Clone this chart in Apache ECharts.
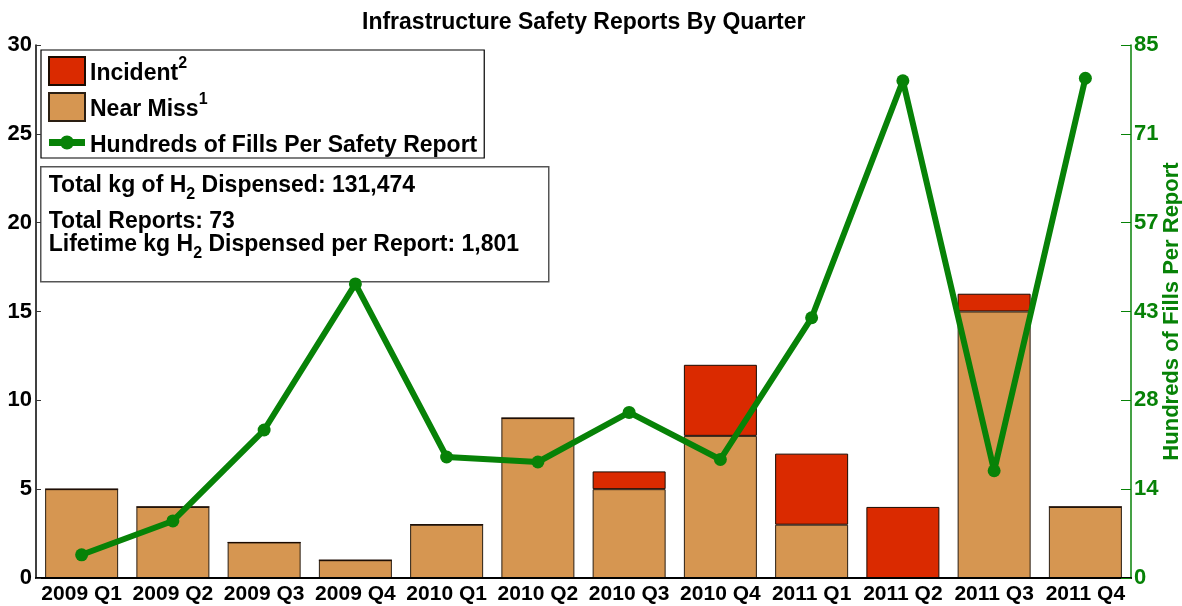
<!DOCTYPE html>
<html>
<head>
<meta charset="utf-8">
<script src="https://cdn.jsdelivr.net/npm/echarts@6/dist/echarts.min.js"></script>
<style>
  html, body { margin: 0; padding: 0; background: #fff; }
  #chart { width: 1182px; height: 606px; }
</style>
</head>
<body>
<div id="chart"></div>
<script>
// Quarterly safety reports
const quarters = ['2009 Q1', '2009 Q2', '2009 Q3', '2009 Q4', '2010 Q1', '2010 Q2',
                  '2010 Q3', '2010 Q4', '2011 Q1', '2011 Q2', '2011 Q3', '2011 Q4'];
const nearMiss  = [5, 4, 2, 1, 3, 9, 5, 8, 3, 0, 15, 4];
const incidents = [0, 0, 0, 0, 0, 0, 1, 4, 4, 4, 1, 0];
// Hundreds of fills per safety report
const fillsPerReport = [3.7, 9.1, 23.6, 46.9, 19.3, 18.5, 26.4, 18.9, 41.5, 79.3, 17.1, 79.7];
// Left axis (reports) and right axis (fills) ranges
const reportTicks = [0, 5, 10, 15, 20, 25, 30];
const fillsMax = 85;
const kgDispensed = 131474;

const totalReports = nearMiss.concat(incidents).reduce((a, b) => a + b, 0);
const kgPerReport = Math.round(kgDispensed / totalReports);
const fmt = n => n.toLocaleString('en-US');

const FONT = 'Liberation Sans, Arial, Helvetica, sans-serif';
const GREEN = '#078207';
const TAN = '#D69651';
const RED = '#DA2A00';

// thick line with a round marker, used as the legend key of the line series
const LINE_KEY = 'path://M0,3.5 L36,3.5 L36,10.5 L0,10.5 Z M11,7 A7,7 0 1,1 25,7 A7,7 0 1,1 11,7 Z';

const chart = echarts.init(document.getElementById('chart'), null, { renderer: 'canvas' });

const legendRich = {
  t: { fontFamily: FONT, fontWeight: 'bold', fontSize: 23, color: '#000', lineHeight: 30, padding: [6, 0, 0, 0] },
  sup: { fontFamily: FONT, fontWeight: 'bold', fontSize: 16, color: '#000', lineHeight: 20, verticalAlign: 'top' }
};
const subRich = {
  m: { fontFamily: FONT, fontWeight: 'bold', fontSize: 23, color: '#000', lineHeight: 34 },
  s: { fontFamily: FONT, fontWeight: 'bold', fontSize: 16, color: '#000', lineHeight: 12, verticalAlign: 'bottom' }
};

const option = {
  animation: false,
  backgroundColor: '#fff',
  title: {
    text: 'Infrastructure Safety Reports By Quarter',
    left: 357, top: 6,
    textStyle: { fontFamily: FONT, fontWeight: 'bold', fontSize: 23, color: '#000' }
  },
  grid: { left: 36, right: 51, top: 45, bottom: 28, outerBoundsMode: 'none', containLabel: false },
  legend: {
    orient: 'vertical',
    left: 41, top: 50,
    padding: [6, 7, 1, 7],
    itemWidth: 36, itemHeight: 28, itemGap: 6,
    backgroundColor: '#fff',
    borderColor: '#000', borderWidth: 1.2, borderRadius: 0,
    data: [
      { name: 'Incident', icon: 'rect' },
      { name: 'Near Miss', icon: 'rect' },
      { name: 'Hundreds of Fills Per Safety Report', icon: LINE_KEY }
    ],
    formatter: function (name) {
      if (name === 'Incident') return '{t|Incident}{sup|2}';
      if (name === 'Near Miss') return '{t|Near Miss}{sup|1}';
      return '{t|' + name + '}';
    },
    textStyle: { rich: legendRich }
  },
  xAxis: [{
    type: 'category',
    data: quarters,
    position: 'bottom',
    z: 5,
    axisLine: { lineStyle: { color: '#000', width: 2 } },
    axisTick: { inside: true, length: 10, alignWithLabel: true, lineStyle: { color: '#333', width: 1.5 } },
    axisLabel: { interval: 0, fontFamily: FONT, fontWeight: 'bold', fontSize: 21, color: '#000', margin: 6 }
  }, {
    type: 'category',
    data: quarters,
    position: 'top',
    z: 5,
    axisLine: { lineStyle: { color: '#000', width: 1.5 } },
    axisTick: { inside: true, length: 6, alignWithLabel: true, interval: 0, lineStyle: { color: '#333', width: 1.2 } },
    axisLabel: { show: false }
  }],
  yAxis: [{
    type: 'value',
    min: reportTicks[0], max: reportTicks[reportTicks.length - 1],
    interval: reportTicks[1] - reportTicks[0],
    position: 'left',
    z: 5,
    axisLine: { show: true, lineStyle: { color: '#000', width: 1.5 } },
    axisTick: { show: true, inside: true, length: 5, lineStyle: { color: '#333' } },
    axisLabel: { fontFamily: FONT, fontWeight: 'bold', fontSize: 22, color: '#000', margin: 4 },
    splitLine: { show: false }
  }, {
    type: 'value',
    min: 0, max: fillsMax,
    interval: fillsMax / 6,
    position: 'right',
    z: 5,
    name: 'Hundreds of Fills Per Report',
    nameLocation: 'middle',
    nameRotate: 90,
    nameGap: 30,
    nameMoveOverlap: false,
    nameTextStyle: { fontFamily: FONT, fontWeight: 'bold', fontSize: 22, color: GREEN },
    axisLine: { show: true, lineStyle: { color: GREEN, width: 1.5 } },
    axisTick: { show: true, inside: true, length: 10, lineStyle: { color: GREEN } },
    axisLabel: {
      fontFamily: FONT, fontWeight: 'bold', fontSize: 22, color: GREEN, margin: 3,
      formatter: v => String(Math.round(v))
    },
    splitLine: { show: false }
  }],
  series: [{
    name: 'Near Miss',
    type: 'bar',
    stack: 'reports',
    barWidth: '80%',
    data: nearMiss,
    itemStyle: { color: TAN, borderColor: '#2a1e12', borderWidth: 1 }
  }, {
    name: 'Incident',
    type: 'bar',
    stack: 'reports',
    barWidth: '80%',
    data: incidents,
    itemStyle: { color: RED, borderColor: '#1a0a00', borderWidth: 1 }
  }, {
    name: 'Hundreds of Fills Per Safety Report',
    type: 'line',
    yAxisIndex: 1,
    z: 10,
    data: fillsPerReport,
    symbol: 'circle',
    symbolSize: 13,
    lineStyle: { color: GREEN, width: 6 },
    itemStyle: { color: GREEN }
  }],
  graphic: [{
    type: 'group',
    left: 40, top: 166,
    children: [{
      type: 'rect',
      shape: { x: 0, y: 0, width: 508, height: 115 },
      style: { fill: '#fff', stroke: '#555', lineWidth: 1.5 }
    }, {
      type: 'text',
      x: 8, y: 18.5,
      style: {
        text: '{m|Total kg of H}{s|2}{m| Dispensed: ' + fmt(kgDispensed) + '}',
        rich: subRich, verticalAlign: 'middle'
      }
    }, {
      type: 'text',
      x: 8, y: 55,
      style: {
        text: 'Total Reports: ' + totalReports,
        fontFamily: FONT, fontWeight: 'bold', fontSize: 23, fill: '#000', verticalAlign: 'middle'
      }
    }, {
      type: 'text',
      x: 8, y: 78,
      style: {
        text: '{m|Lifetime kg H}{s|2}{m| Dispensed per Report: ' + fmt(kgPerReport) + '}',
        rich: subRich, verticalAlign: 'middle'
      }
    }]
  }]
};

chart.setOption(option);
</script>
</body>
</html>
